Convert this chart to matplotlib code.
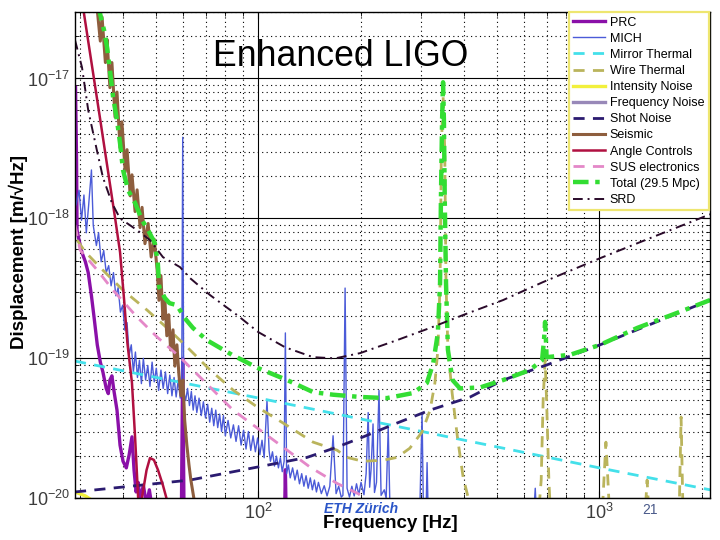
import matplotlib
matplotlib.use('Agg')
import matplotlib.pyplot as plt
from matplotlib.lines import Line2D
from matplotlib.ticker import LogLocator, NullFormatter, FixedLocator

plt.rcParams['font.family'] = ['Liberation Sans', 'DejaVu Sans']
plt.rcParams['mathtext.fontset'] = 'custom'
plt.rcParams['mathtext.rm'] = 'Liberation Sans'
plt.rcParams['mathtext.it'] = 'Liberation Sans:italic'
plt.rcParams['mathtext.bf'] = 'Liberation Sans:bold'
plt.rcParams['mathtext.default'] = 'regular'

# ---------------- data (frequency in Hz, displacement in m/sqrt(Hz)) ----------------
srd_f = [29.0, 30.4, 31.7, 33.6, 35.0, 37.2, 39.3, 44.1, 48.1, 52.5, 58.9, 63.0, 72.2, 86.6, 100,
         119.8, 144.7, 167.9, 198.7, 255.1, 318.8, 398.4, 521.9, 683.8, 1005, 1408, 2112]
srd_v = [1.88e-17, 1.20e-17, 5.94e-18, 3.08e-18, 1.97e-18, 1.29e-18, 1.0e-18, 8.25e-19, 7.0e-19,
         5.29e-19, 4.49e-19, 3.75e-19, 2.83e-19, 2.04e-19, 1.54e-19, 1.20e-19, 1.02e-19, 1.0e-19,
         1.09e-19, 1.35e-19, 1.65e-19, 2.04e-19, 2.61e-19, 3.51e-19, 5.2e-19, 7.23e-19, 1.07e-18]

total_f = [33.9, 34.7, 35.3, 36.0, 36.7, 37.5, 38.5, 39.3, 40.1, 41.5, 43.5, 45.6, 47.5, 49.7, 50.7,
           51.2, 53.2, 54.9, 57.7, 60.8, 64.3, 70.6, 83.7, 100, 121.4, 144.7, 165.6, 198.7, 238,
           284, 312, 325.7, 336, 341, 343, 345.7, 348, 350, 352, 355, 359.6, 371, 390, 447, 522,
           625, 679, 688, 693, 697, 700, 820, 1005, 1291, 1687, 2112]
total_v = [3.34e-17, 2.6e-17, 2.2e-17, 1.67e-17, 1.15e-17, 7.35e-18, 5.03e-18, 3.45e-18, 2.22e-18,
           1.59e-18, 1.29e-18, 9.73e-19, 8.25e-19, 6.66e-19, 4.87e-19, 3.23e-19, 2.7e-19, 2.48e-19,
           2.4e-19, 1.94e-19, 1.65e-19, 1.35e-19, 1.06e-19, 8.5e-20, 7.0e-20, 5.74e-20, 5.5e-20,
           5.3e-20, 5.2e-20, 5.65e-20, 6.66e-20, 9.26e-20, 1.52e-19, 3.45e-19, 1.35e-18, 5.03e-18,
           9.4e-18, 5.03e-18, 1.35e-18, 3.45e-19, 1.15e-19, 7.0e-20, 6.1e-20, 6.2e-20, 7.0e-20,
           8.25e-20, 9.7e-20, 1.35e-19, 1.82e-19, 1.35e-19, 1.02e-19, 1.06e-19, 1.25e-19, 1.65e-19,
           2.11e-19, 2.61e-19]

seismic_f = [33.6, 34.4, 34.8, 35.6, 36.0, 36.7, 37.2, 38.0, 38.5, 39.3, 39.8, 40.7, 41.2, 42.1,
             42.6, 43.5, 44.1, 45.0, 45.6, 46.5, 47.5, 48.5, 49.5, 50.5, 51.1, 51.8, 52.5, 53.2,
             53.9, 54.6, 55.3, 56.2, 56.9, 57.7, 58.5, 59.3, 60.1, 60.8, 61.7, 62.6, 63.4, 64.7, 65.5]
seismic_v = [3.34e-17, 1.85e-17, 2.75e-17, 1.3e-17, 1.9e-17, 8.6e-18, 1.3e-17, 5.3e-18,
             8.0e-18, 3.2e-18, 4.9e-18, 2.15e-18, 3.1e-18, 1.45e-18, 2.05e-18, 1.12e-18,
             1.6e-18, 8.6e-19, 1.2e-18, 6.6e-19, 9.2e-19, 5.3e-19, 7.1e-19, 4.27e-19,
             2.6e-19, 3.9e-19, 1.9e-19, 2.6e-19, 1.45e-19, 2.05e-19, 1.15e-19, 1.6e-19,
             8.8e-20, 1.25e-19, 7.6e-20, 5.4e-20, 7.0e-20, 3.62e-20, 2.4e-20, 1.73e-20, 1.35e-20,
             1.0e-20, 7.6e-21]

angle_f = [30.4, 34.4, 38.0, 39.3, 40.4, 41.3, 42.6, 43.5, 44.4, 45.0, 45.6, 47.0, 48.1, 49.4,
           50.8, 52.5, 53.9, 54.9]
angle_v = [3.6e-17, 5.03e-18, 1.01e-18, 5.75e-19, 2.61e-19, 1.29e-19, 6.66e-20, 2.74e-20, 1.02e-20,
           5e-21, 1.02e-20, 1.59e-20, 1.94e-20, 1.88e-20, 1.59e-20, 1.24e-20, 9.8e-21, 6e-21]

prc_f = [29.1, 29.3, 29.4, 29.8, 30.4, 31.1, 31.7, 32.4, 33.0, 33.7, 34.4, 35.0, 35.8, 36.3, 36.7,
         37.2, 37.7, 38.5, 39.3, 40.1, 41.0, 41.8, 42.6, 43.2, 43.8, 44.4, 45.0, 46.0, 47.0, 47.9,
         49.0, 58.0, 59.5, 60.0, 60.5, 62.0, 118.0, 119.5, 120.0, 120.5, 125.0]
prc_v = [8.67e-18, 2.61e-18, 8.25e-19, 7.0e-19, 5.7e-19, 4.9e-19, 4.1e-19, 2.8e-19, 1.94e-19,
         1.25e-19, 9.4e-20, 8.0e-20, 6.1e-20, 5.6e-20, 7.0e-20, 7.5e-20, 5.9e-20, 4.27e-20, 2.4e-20,
         1.84e-20, 1.65e-20, 2.05e-20, 2.75e-20, 1.59e-20, 1.11e-20, 1.3e-20, 9.8e-21, 1.24e-20,
         9e-21, 1.15e-20, 8e-21, 8e-21, 9e-21, 1.0e-19, 9e-21, 8e-21, 8e-21, 9e-21, 1.6e-20, 9e-21,
         8e-21]

mich_f = [29.2, 29.8, 30.3, 30.8, 31.3, 31.8, 32.4, 32.8, 33.5, 34.0, 34.6, 35.2, 35.8, 36.4, 37.0,
          37.6, 38.2, 38.8, 39.4, 40.0, 40.6, 41.2, 41.8, 42.4, 43.0, 43.6, 44.2, 44.8, 45.4, 46.0,
          46.7, 47.4, 48.1, 48.8, 49.5, 50.2, 51.0, 51.8, 52.6, 53.4, 54.2, 55.0, 55.8, 56.6, 57.4,
          58.2, 59.0, 59.6, 60.0, 60.4, 61.2, 62.0, 62.8, 63.6, 64.4, 65.2, 66.0, 67.0, 68.0, 69.0,
          70.0, 71.0, 72.0, 73.0, 74.0, 75.0, 76.0, 77.0, 78.0, 79.0, 80.0, 81.5, 83.0, 84.5, 86.0,
          87.5, 89.0, 90.5, 92.0, 93.5, 95.0, 96.5, 98.0, 99.5, 101.0, 102.5, 104.0, 106.0, 107.5,
          108.5, 110.0, 111.5, 113.0, 114.5, 116.0, 117.5, 119.0, 120.0, 121.0, 122.5, 124.0, 126.0,
          128.0, 130.0, 132.0, 134.0, 136.0, 138.0, 140.0, 142.0, 144.0, 146.0, 148.0, 150.0, 153.0,
          156.0, 159.0, 162.0, 165.6, 169.0, 172.0, 175.0, 177.0, 179.6, 182.0, 185.0, 188.0, 191.0,
          194.0, 197.0, 200.0, 204.0, 207.0, 209.9, 212.0, 214.0, 216.9, 219.0, 222.0, 225.8, 229.0,
          234.0, 237.0, 240.3, 243.0, 250.0, 297.0, 302.0, 305.0, 310.0, 312.4, 315.0, 640.0, 648.5,
          655.0]
mich_v = [1.25e-18, 1.59e-18, 9.7e-19, 1.47e-18, 7.9e-19, 1.25e-18, 2.22e-18, 8.9e-19, 6.4e-19,
          7.9e-19, 4.9e-19, 5.9e-19, 4.1e-19, 4.6e-19, 3.3e-19, 4.1e-19, 2.8e-19, 3.2e-19, 2.14e-19,
          2.4e-19, 1.59e-19, 1.8e-19, 1.06e-19, 1.25e-19, 8.0e-20, 1.11e-19, 7.3e-20, 9.7e-20,
          6.6e-20, 1.0e-19, 7.0e-20, 8.9e-20, 6.3e-20, 9.4e-20, 6.8e-20, 8.5e-20, 5.9e-20, 8.25e-20,
          6.1e-20, 8.0e-20, 5.6e-20, 7.6e-20, 5.4e-20, 7.3e-20, 5.3e-20, 7.0e-20, 5.2e-20, 6.1e-20,
          3.8e-18, 5.8e-20, 5.0e-20, 6.1e-20, 4.6e-20, 5.8e-20, 4.27e-20, 5.4e-20, 4.1e-20, 5.2e-20,
          3.9e-20, 4.9e-20, 3.75e-20, 4.7e-20, 3.5e-20, 4.4e-20, 3.3e-20, 4.27e-20, 3.2e-20, 4.0e-20,
          3.0e-20, 3.9e-20, 2.8e-20, 3.6e-20, 2.7e-20, 3.35e-20, 2.55e-20, 3.3e-20, 2.4e-20, 3.07e-20,
          2.25e-20, 3.0e-20, 2.2e-20, 2.8e-20, 2.15e-20, 2.7e-20, 2.05e-20, 2.6e-20, 1.95e-20, 5.0e-20,
          2.2e-20, 1.84e-20, 2.15e-20, 1.7e-20, 2.0e-20, 1.65e-20, 1.95e-20, 1.55e-20, 1.84e-20,
          1.52e-19, 1.5e-20, 1.73e-20, 1.4e-20, 1.65e-20, 1.35e-20, 1.59e-20, 1.27e-20, 1.5e-20,
          1.22e-20, 1.45e-20, 1.18e-20, 1.4e-20, 1.15e-20, 1.35e-20, 1.11e-20, 1.3e-20, 1.08e-20,
          1.23e-20, 1.04e-20, 1.22e-20, 2.8e-20, 1.08e-20, 1.22e-20, 1.02e-20, 1.05e-20, 3.18e-19,
          1.18e-20, 1.02e-20, 1.22e-20, 1.04e-20, 1.27e-20, 1.06e-20, 1.3e-20, 1.06e-20, 1.5e-20,
          4.1e-20, 1.2e-20, 1.6e-20, 3.4e-20, 1.1e-20, 1.3e-20, 5.9e-20, 1.05e-20, 1.15e-20, 1.0e-20,
          3.2e-20, 9e-21, 7e-21, 7e-21, 4.1e-20, 7e-21, 7e-21, 1.8e-20, 7e-21, 7e-21, 1.18e-20, 7e-21]

mirror_f = [29.0, 100, 1000, 2112]
mirror_v = [9.56e-20, 5.21e-20, 1.65e-20, 1.15e-20]

wire_f = [29.4, 31.1, 35.0, 40.1, 47.2, 54.9, 63.0, 72.2, 84.3, 99.1, 118.2, 144.7, 170, 182, 202.4,
          232, 255, 278, 302, 318.8, 329.3, 336, 341, 344, 348, 352, 355, 359.6, 370, 383.4, 398.4,
          414, 422, 661, 675, 684, 693, 700, 711, 720, 1017, 1031, 1045, 1059, 1073, 1358, 1380, 1400,
          1712, 1736, 1760]
wire_v = [7.0e-19, 5.75e-19, 4.27e-19, 3.07e-19, 2.21e-19, 1.59e-19, 1.15e-19, 8.25e-20, 5.94e-20,
          4.5e-20, 3.45e-20, 2.52e-20, 2.21e-20, 1.96e-20, 1.84e-20, 1.87e-20, 1.96e-20, 2.28e-20,
          2.98e-20, 4.27e-20, 6.66e-20, 1.15e-19, 3.45e-19, 3.08e-18, 7.6e-18, 3.08e-18, 3.45e-19,
          1.15e-19, 5.65e-20, 2.74e-20, 1.42e-20, 9.7e-21, 7e-21, 7e-21, 1.35e-20, 5.04e-20, 9.7e-20,
          5.04e-20, 1.35e-20, 7e-21, 7e-21, 1.35e-20, 2.52e-20, 1.35e-20, 7e-21, 7e-21, 1.35e-20,
          7e-21, 7e-21, 3.81e-20, 7e-21]

shot_f = [29.0, 45.0, 63.0, 99.1, 138.9, 170, 202.4, 255, 318.8, 417.5, 522, 700, 1005, 2112]
shot_v = [1.11e-20, 1.24e-20, 1.35e-20, 1.67e-20, 1.96e-20, 2.32e-20, 2.74e-20, 3.45e-20, 4.27e-20,
          5.29e-20, 7.0e-20, 8.96e-20, 1.25e-19, 2.61e-19]

sus_f = [29.0, 30.0, 33.7, 37.5, 44.1, 50.5, 58.9, 67.4, 84.3, 101.2, 121.4, 141.8, 170, 205.6, 227.5]
sus_v = [8.96e-19, 5.94e-19, 4.27e-19, 3.07e-19, 1.97e-19, 1.42e-19, 1.02e-19, 7.36e-20, 4.27e-20,
         3.07e-20, 2.21e-20, 1.67e-20, 1.28e-20, 1.02e-20, 8.2e-21]

intensity_f = [29.0, 31.1, 32.5]
intensity_v = [1.11e-20, 1.04e-20, 9.7e-21]

x_major = [100, 1000]
y_major = [1e-20, 1e-19, 1e-18, 1e-17]

labels = ['PRC', 'MICH', 'Mirror Thermal', 'Wire Thermal', 'Intensity Noise', 'Frequency Noise',
          'Shot Noise', 'Seismic', 'Angle Controls', 'SUS electronics', 'Total (29.5 Mpc)', 'SRD']

# ---------------- figure ----------------
fig = plt.figure(figsize=(7.2, 5.4), dpi=100)
ax = fig.add_axes([0.1042, 0.0772, 0.8819, 0.9011])
ax.set_xscale('log')
ax.set_yscale('log')
ax.set_xlim(29, 2110)
ax.set_ylim(1e-20, 3e-17)

ax.grid(True, which='major', color='black', linestyle='-', linewidth=0.8)
ax.grid(True, which='minor', color='black', linestyle=(0, (1, 3)), linewidth=0.8)
ax.set_axisbelow(True)

h = {}
h['PRC'], = ax.plot(prc_f, prc_v, color='#8a10a8', lw=2.4, solid_joinstyle='round')
h['MICH'], = ax.plot(mich_f, mich_v, color='#4b5bd8', lw=1.0)
h['Mirror Thermal'], = ax.plot(mirror_f, mirror_v, color='#44e0ea', lw=2.0, dashes=(4, 3))
h['Wire Thermal'], = ax.plot(wire_f, wire_v, color='#bab45c', lw=2.0, dashes=(4, 3))
h['Intensity Noise'], = ax.plot(intensity_f, intensity_v, color='#f2f03c', lw=2.4)
h['Frequency Noise'] = Line2D([], [], color='#9888b8', lw=2.4)
h['Shot Noise'], = ax.plot(shot_f, shot_v, color='#2b1b70', lw=2.0, dashes=(4, 3))
h['Seismic'], = ax.plot(seismic_f, seismic_v, color='#8e5e3e', lw=2.2)
h['Angle Controls'], = ax.plot(angle_f, angle_v, color='#b01040', lw=1.8)
h['SUS electronics'], = ax.plot(sus_f, sus_v, color='#e488c8', lw=2.0, dashes=(4, 3))
h['Total (29.5 Mpc)'], = ax.plot(total_f, total_v, color='#33dd33', lw=3.2, dashes=(3.5, 1.5, 1, 1.5))
h['SRD'], = ax.plot(srd_f, srd_v, color='#2a0a2a', lw=1.4, dashes=(5, 2.5, 1, 2.5))

leg = ax.legend([h[k] for k in labels], labels, loc='upper right', bbox_to_anchor=(0.998, 0.999),
                borderaxespad=0.0, fontsize=9.0, handlelength=2.6, handletextpad=0.35,
                labelspacing=0.33, borderpad=0.35, fancybox=False, framealpha=1.0)
leg.get_frame().set_edgecolor('#eee670')
leg.get_frame().set_linewidth(1.6)

ax.xaxis.set_major_locator(FixedLocator(x_major))
ax.yaxis.set_major_locator(FixedLocator(y_major))
ax.xaxis.set_minor_locator(LogLocator(base=10, subs=range(2, 10)))
ax.yaxis.set_minor_locator(LogLocator(base=10, subs=range(2, 10), numticks=20))
ax.xaxis.set_minor_formatter(NullFormatter())
ax.yaxis.set_minor_formatter(NullFormatter())
ax.tick_params(which='both', direction='in', top=True, right=True, colors='black',
               labelcolor='#3c3c3c', labelsize=13)
ax.tick_params(which='major', length=5)
ax.tick_params(which='minor', length=3)
for s in ax.spines.values():
    s.set_linewidth(1.0)

ax.text(0.418, 0.907, 'Enhanced LIGO', transform=ax.transAxes, fontsize=25.7,
        ha='center', va='center', color='black')

fig.text(0.025, 0.533, 'Displacement [m/\u221aHz]', rotation=90, fontsize=13.5, fontweight='bold',
         ha='center', va='center')
fig.text(0.542, 0.030, 'Frequency [Hz]', fontsize=13.5, fontweight='bold', ha='center', va='center')
fig.text(0.501, 0.058, 'ETH Zürich', fontsize=10, fontweight='bold', style='italic',
         color='#2a55c8', ha='center', va='center')
fig.text(0.903, 0.056, '21', fontsize=10, color='#4a5a8a', ha='center', va='center')

fig.savefig('out.png', dpi=100, facecolor='white')
